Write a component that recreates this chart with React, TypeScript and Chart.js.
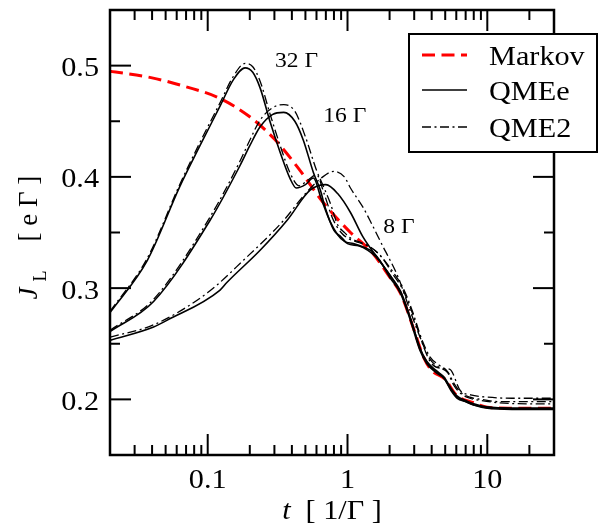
import React, { useEffect, useRef } from "react";
import { Chart, registerables } from "chart.js";

Chart.register(...registerables);

// ---------- data ----------
const markovT = [0.02, 0.04, 0.07, 0.12, 0.2, 0.3, 0.45, 0.67, 1.05, 1.5, 2, 2.4, 3, 3.5, 4, 5, 6, 8, 10, 15, 30];
const markovJ = [0.495, 0.489, 0.481, 0.471, 0.454, 0.434, 0.407, 0.377, 0.35, 0.332, 0.31, 0.295, 0.262, 0.238, 0.226, 0.218, 0.204, 0.197, 0.193, 0.192, 0.192];

const qmee32T = [0.02, 0.037, 0.063, 0.088, 0.123, 0.152, 0.185, 0.21, 0.237, 0.28, 0.33, 0.39, 0.43, 0.5, 0.57, 0.65, 0.75, 0.85, 0.95, 1.1, 1.3, 1.5, 1.7, 2, 2.4, 2.8, 3.3, 3.7, 4.3, 4.9, 5.5, 6.1, 7, 8, 10, 15, 30];
const qmee32J = [0.278, 0.325, 0.391, 0.428, 0.464, 0.487, 0.498, 0.494, 0.48, 0.449, 0.422, 0.398, 0.39, 0.393, 0.399, 0.38, 0.36, 0.348, 0.342, 0.34, 0.337, 0.333, 0.325, 0.31, 0.295, 0.272, 0.244, 0.232, 0.224, 0.219, 0.208, 0.201, 0.198, 0.195, 0.192, 0.191, 0.191];

const qmee16T = [0.02, 0.041, 0.104, 0.17, 0.2, 0.237, 0.29, 0.35, 0.42, 0.483, 0.57, 0.64, 0.69, 0.8, 0.9, 1.0, 1.2, 1.4, 1.6, 2, 2.4, 2.8, 3.3, 3.7, 4.3, 4.9, 5.5, 6.1, 7, 8, 10, 15, 30];
const qmee16J = [0.261, 0.288, 0.361, 0.41, 0.428, 0.445, 0.456, 0.458, 0.45, 0.433, 0.404, 0.388, 0.373, 0.352, 0.346, 0.34, 0.338, 0.334, 0.328, 0.312, 0.296, 0.274, 0.246, 0.233, 0.225, 0.219, 0.209, 0.202, 0.198, 0.195, 0.193, 0.192, 0.192];

const qmee8T = [0.02, 0.041, 0.051, 0.122, 0.137, 0.237, 0.37, 0.54, 0.7, 0.85, 1.05, 1.29, 1.62, 2, 2.4, 2.8, 3.3, 3.7, 4.3, 4.9, 5.5, 6.1, 7, 8, 10, 15, 30];
const qmee8J = [0.253, 0.265, 0.271, 0.298, 0.305, 0.334, 0.361, 0.388, 0.393, 0.385, 0.368, 0.346, 0.328, 0.312, 0.297, 0.274, 0.246, 0.234, 0.226, 0.22, 0.21, 0.203, 0.199, 0.196, 0.193, 0.192, 0.192];

const qme2_32T = [0.02, 0.037, 0.063, 0.088, 0.123, 0.152, 0.185, 0.21, 0.237, 0.28, 0.33, 0.39, 0.45, 0.52, 0.6, 0.68, 0.78, 0.9, 1.0, 1.2, 1.4, 1.6, 1.8, 2.1, 2.5, 2.9, 3.4, 3.9, 4.5, 5.2, 5.8, 6.5, 7.5, 9, 12, 20, 30];
const qme2_32J = [0.279, 0.327, 0.393, 0.431, 0.467, 0.49, 0.502, 0.499, 0.486, 0.456, 0.428, 0.403, 0.392, 0.397, 0.402, 0.385, 0.363, 0.35, 0.345, 0.341, 0.338, 0.333, 0.326, 0.313, 0.298, 0.278, 0.252, 0.236, 0.229, 0.224, 0.212, 0.205, 0.201, 0.199, 0.197, 0.196, 0.196];

const qme2_16T = [0.02, 0.041, 0.104, 0.17, 0.2, 0.237, 0.29, 0.35, 0.42, 0.5, 0.6, 0.68, 0.75, 0.85, 0.95, 1.05, 1.25, 1.45, 1.7, 2.1, 2.5, 2.9, 3.4, 3.9, 4.5, 5.2, 5.8, 6.5, 7.5, 9, 12, 20, 30];
const qme2_16J = [0.262, 0.29, 0.364, 0.414, 0.433, 0.451, 0.462, 0.465, 0.459, 0.436, 0.406, 0.39, 0.377, 0.357, 0.35, 0.345, 0.341, 0.337, 0.33, 0.315, 0.3, 0.28, 0.254, 0.238, 0.231, 0.225, 0.214, 0.206, 0.202, 0.2, 0.198, 0.198, 0.198];

const qme2_8T = [0.02, 0.041, 0.1, 0.18, 0.35, 0.5, 0.65, 0.8, 0.95, 1.05, 1.3, 1.5, 1.8, 2.0, 2.3, 2.8, 3.3, 3.9, 4.6, 5.4, 6.4, 7.6, 10, 15, 30];
const qme2_8J = [0.256, 0.267, 0.296, 0.325, 0.361, 0.385, 0.399, 0.405, 0.4, 0.39, 0.372, 0.357, 0.337, 0.326, 0.31, 0.28, 0.256, 0.234, 0.228, 0.227, 0.208, 0.204, 0.202, 0.201, 0.201];

// axis ticks
const xMajorTicks = [0.1, 1, 10];
const xTickLabels = ["0.1", "1", "10"];
const xMinorTicks = [0.02, 0.03, 0.04, 0.05, 0.06, 0.07, 0.08, 0.09, 0.2, 0.3, 0.4, 0.5, 0.6, 0.7, 0.8, 0.9, 2, 3, 4, 5, 6, 7, 8, 9, 20, 30];
const yMajorTicks = [0.2, 0.3, 0.4, 0.5];
const yTickLabels = ["0.2", "0.3", "0.4", "0.5"];
const yMinorTicks = [0.25, 0.35, 0.45];

// curve annotations (data coordinates of text's left baseline)
const annotationTexts = ["32 Γ", "16 Γ", "8 Γ"];
const annotationT = [0.303, 0.671, 1.805];
const annotationJ = [0.4991, 0.4496, 0.3497];

const legendLabels = ["Markov", "QMEe", "QME2"];

const FONT = '"Liberation Serif", "Times New Roman", serif';
const SX = 1.12;
const RED = "#ff0000";
const DASH_RED = [13, 6.5];
const DASH_DOT = [9, 3.5, 2, 3.5];

function pts(t: number[], j: number[]) {
  return t.map((v, i) => ({ x: v, y: j[i] }));
}

function drawText(ctx: CanvasRenderingContext2D, s: string, x: number, y: number, size: number, align: CanvasTextAlign = "left", italic = false, sx = SX) {
  ctx.save();
  ctx.font = `${italic ? "italic " : ""}${size}px ${FONT}`;
  ctx.translate(x, y);
  ctx.scale(sx, 1);
  ctx.textAlign = align;
  ctx.textBaseline = "alphabetic";
  ctx.fillStyle = "#000";
  ctx.fillText(s, 0, 0);
  ctx.restore();
}

function measure(ctx: CanvasRenderingContext2D, s: string, size: number, italic = false, sx = SX) {
  ctx.save();
  ctx.font = `${italic ? "italic " : ""}${size}px ${FONT}`;
  const w = ctx.measureText(s).width * sx;
  ctx.restore();
  return w;
}

const framePlugin = {
  id: "frame",
  afterDraw(chart: any) {
    const ctx: CanvasRenderingContext2D = chart.ctx;
    const a = chart.chartArea;
    const xs = chart.scales.x;
    const ys = chart.scales.y;
    ctx.save();
    ctx.strokeStyle = "#000";
    ctx.lineCap = "butt";
    ctx.lineWidth = 2;
    const MAJ = 21;
    const MIN = 10;
    const line = (x1: number, y1: number, x2: number, y2: number) => {
      ctx.beginPath();
      ctx.moveTo(x1, y1);
      ctx.lineTo(x2, y2);
      ctx.stroke();
    };
    xMajorTicks.forEach((t) => {
      const p = xs.getPixelForValue(t);
      line(p, a.bottom, p, a.bottom - MAJ);
      line(p, a.top, p, a.top + MAJ);
    });
    xMinorTicks.forEach((t) => {
      const p = xs.getPixelForValue(t);
      line(p, a.bottom, p, a.bottom - MIN);
      line(p, a.top, p, a.top + MIN);
    });
    yMajorTicks.forEach((v) => {
      const p = ys.getPixelForValue(v);
      line(a.left, p, a.left + MAJ, p);
      line(a.right, p, a.right - MAJ, p);
    });
    yMinorTicks.forEach((v) => {
      const p = ys.getPixelForValue(v);
      line(a.left, p, a.left + MIN, p);
      line(a.right, p, a.right - MIN, p);
    });
    ctx.lineWidth = 2.5;
    ctx.strokeRect(a.left, a.top, a.right - a.left, a.bottom - a.top);

    // tick labels
    xMajorTicks.forEach((t, i) => {
      drawText(ctx, xTickLabels[i], xs.getPixelForValue(t), a.bottom + 33, 27, "center");
    });
    yMajorTicks.forEach((v, i) => {
      drawText(ctx, yTickLabels[i], a.left - 11, ys.getPixelForValue(v) + 10.5, 27, "right");
    });

    // x title
    const cx = (a.left + a.right) / 2;
    const rest = "[ 1/Γ ]";
    const tw = measure(ctx, "t", 27, true);
    const gap = 15;
    const rw = measure(ctx, rest, 27);
    const start = cx - (tw + gap + rw) / 2;
    drawText(ctx, "t", start, a.bottom + 64, 27, "left", true);
    drawText(ctx, rest, start + tw + gap, a.bottom + 64, 27, "left");

    // y title (rotated)
    ctx.save();
    ctx.translate(a.left - 73, (a.top + a.bottom) / 2 + 67);
    ctx.rotate(-Math.PI / 2);
    drawText(ctx, "J", 0, 0, 27, "left", true, 1);
    drawText(ctx, "L", 18, 9, 18, "left", false, 1);
    drawText(ctx, "[ e Γ ]", 58, 0, 27, "left", false, 1);
    ctx.restore();

    // annotations
    annotationTexts.forEach((s, i) => {
      drawText(ctx, s, xs.getPixelForValue(annotationT[i]), ys.getPixelForValue(annotationJ[i]), 21, "left");
    });

    // legend
    const lx = a.right - 145;
    const ly = a.top + 24;
    const lw = 188;
    const lh = 118;
    ctx.fillStyle = "#fff";
    ctx.fillRect(lx, ly, lw, lh);
    ctx.lineWidth = 2;
    ctx.strokeStyle = "#000";
    ctx.strokeRect(lx, ly, lw, lh);
    const rowY = [ly + 21, ly + 56, ly + 93];
    const styles = [
      { color: RED, width: 3, dash: DASH_RED },
      { color: "#000", width: 1.5, dash: [] as number[] },
      { color: "#000", width: 1.4, dash: DASH_DOT },
    ];
    legendLabels.forEach((lab, i) => {
      const st = styles[i];
      ctx.save();
      ctx.strokeStyle = st.color;
      ctx.lineWidth = st.width;
      ctx.setLineDash(st.dash);
      ctx.beginPath();
      ctx.moveTo(lx + 13, rowY[i]);
      ctx.lineTo(lx + 58, rowY[i]);
      ctx.stroke();
      ctx.restore();
      drawText(ctx, lab, lx + 80, rowY[i] + 10, 27, "left");
    });
    ctx.restore();
  },
};

export default function App() {
  const ref = useRef<HTMLCanvasElement | null>(null);
  useEffect(() => {
    if (!ref.current) return;
    const solid = (t: number[], j: number[]) => ({
      data: pts(t, j),
      borderColor: "#000",
      borderWidth: 1.6,
      pointRadius: 0,
      fill: false,
      cubicInterpolationMode: "monotone" as const,
    });
    const dashdot = (t: number[], j: number[]) => ({
      data: pts(t, j),
      borderColor: "#000",
      borderWidth: 1.3,
      borderDash: DASH_DOT,
      pointRadius: 0,
      fill: false,
      cubicInterpolationMode: "monotone" as const,
    });
    const chart = new Chart(ref.current, {
      type: "line",
      data: {
        datasets: [
          dashdot(qme2_32T, qme2_32J),
          dashdot(qme2_16T, qme2_16J),
          dashdot(qme2_8T, qme2_8J),
          solid(qmee32T, qmee32J),
          solid(qmee16T, qmee16J),
          solid(qmee8T, qmee8J),
          {
            data: pts(markovT, markovJ),
            borderColor: RED,
            borderWidth: 3,
            borderDash: DASH_RED,
            pointRadius: 0,
            fill: false,
            cubicInterpolationMode: "monotone" as const,
          },
        ],
      },
      options: {
        animation: false,
        responsive: false,
        devicePixelRatio: 1,
        layout: { padding: { left: 110, right: 45, top: 10, bottom: 70 } },
        plugins: { legend: { display: false }, tooltip: { enabled: false } },
        scales: {
          x: { type: "logarithmic", min: 0.02, max: 30, display: false },
          y: { type: "linear", min: 0.15, max: 0.55, display: false },
        },
      },
      plugins: [framePlugin],
    });
    return () => chart.destroy();
  }, []);
  return (
    <div style={{ position: "fixed", left: 0, top: 0, width: 599, height: 525, background: "#fff" }}>
      <canvas ref={ref} width={599} height={525} style={{ display: "block" }} />
    </div>
  );
}
